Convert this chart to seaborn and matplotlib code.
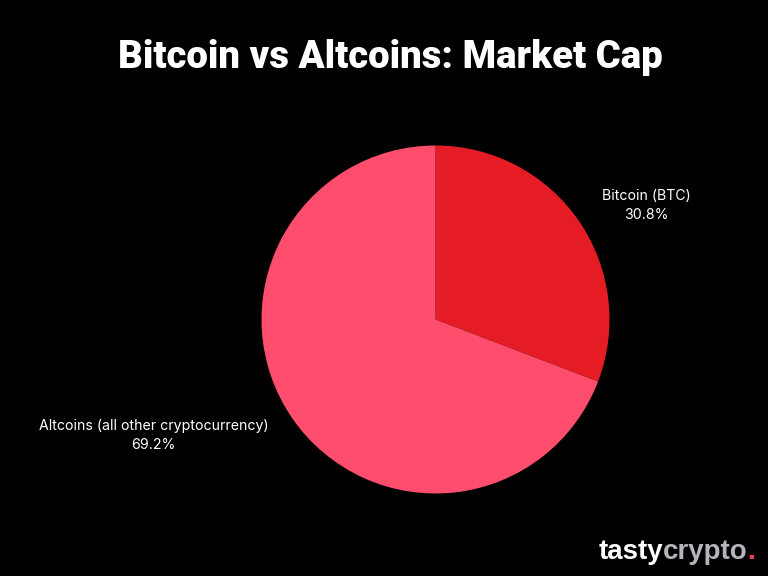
import matplotlib
matplotlib.use("Agg")
import matplotlib.pyplot as plt
import seaborn as sns

labels = ["Bitcoin (BTC)\n30.8%", "Altcoins (all other cryptocurrency)\n69.2%"]
values = [30.8, 69.2]
colors = ["#e51c23", "#ff4d6d"]

sns.set_theme(style="dark", rc={"figure.facecolor": "black", "axes.facecolor": "black"})
plt.rcParams["font.family"] = ["Roboto", "DejaVu Sans"]

fig = plt.figure(figsize=(7.68, 5.76), dpi=100)
ax = fig.add_axes([0, 0, 1, 1])

# pie drawn in pixel coords so it sits where the original does
# y axis is flipped below, so -90 is the top of the circle
ax.pie(values, colors=colors, startangle=-90, counterclock=True,
       center=(435.5, 319.5), radius=174, frame=True,
       wedgeprops={"linewidth": 0})
ax.set_xlim(0, 768)
ax.set_ylim(576, 0)
ax.set_aspect("auto")
ax.axis("off")

ax.text(390, 58, "Bitcoin vs Altcoins: Market Cap", color="white", fontsize=27.6,
        fontweight="black", ha="center", va="center")
ax.text(646.5, 205.5, labels[0], color="white", fontsize=10.2, family="Inter",
        ha="center", va="center", linespacing=1.4)
ax.text(153.5, 435.5, labels[1], color="white", fontsize=10.2, family="Inter",
        ha="center", va="center", linespacing=1.4)

ax.text(599, 552, "tasty", color="white", fontsize=20, family="Liberation Sans",
        fontweight="bold", ha="left", va="center")
ax.text(663, 552, "crypto", color="#b4b4bc", fontsize=20, family="Liberation Sans",
        fontweight="bold", ha="left", va="center")
ax.text(747, 552, ".", color="#ff3b5c", fontsize=20, family="Liberation Sans",
        fontweight="bold", ha="left", va="center")

fig.savefig("out.png", dpi=100, facecolor="black")
